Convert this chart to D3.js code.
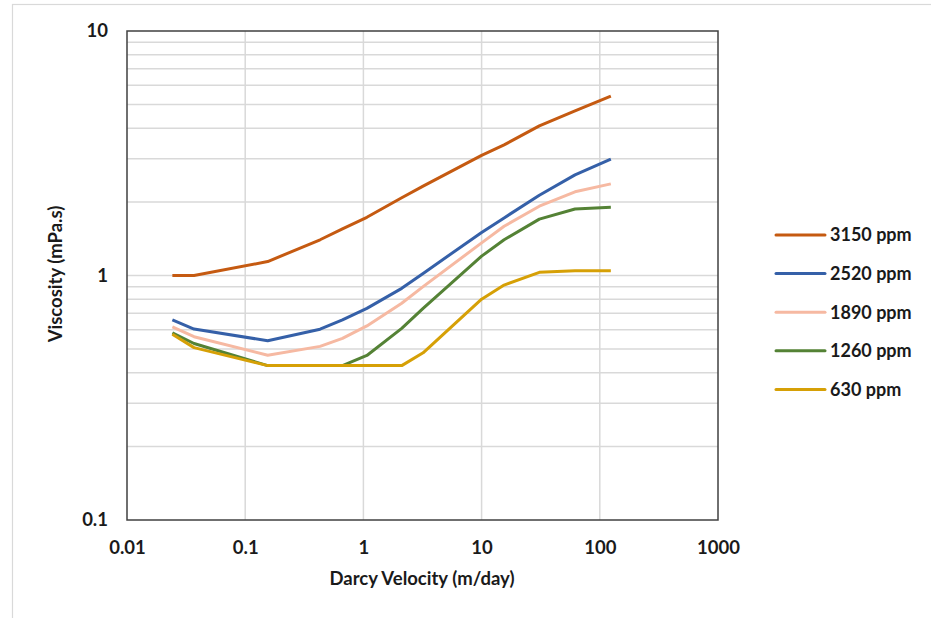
<!DOCTYPE html>
<html><head><meta charset="utf-8">
<script src="https://cdn.jsdelivr.net/npm/d3@7/dist/d3.min.js"></script>
<style>
html,body{margin:0;padding:0;background:#fff;overflow:hidden;}
svg{display:block;}
text{font-family:Lato,Carlito,Calibri,"Open Sans",sans-serif;font-weight:bold;fill:#1a1a1a;}
</style></head>
<body><svg id="chart" width="931" height="618"></svg>
<script>
// Data (Darcy velocity in m/day, viscosity in mPa.s)
const velocities = [0.0242, 0.0369, 0.155, 0.43, 0.665, 1.07, 2.11, 3.2, 10.0, 15.5, 30.8, 61.7, 124];
const visc3150 = [1.00, 1.00, 1.14, 1.40, 1.55, 1.73, 2.08, 2.32, 3.10, 3.42, 4.09, 4.71, 5.42];
const visc2520 = [0.658, 0.604, 0.541, 0.603, 0.658, 0.734, 0.886, 1.02, 1.50, 1.72, 2.13, 2.58, 2.99];
const visc1890 = [0.617, 0.562, 0.472, 0.513, 0.553, 0.622, 0.770, 0.900, 1.36, 1.59, 1.92, 2.20, 2.37];
const visc1260 = [0.583, 0.527, 0.428, 0.428, 0.428, 0.471, 0.608, 0.734, 1.20, 1.40, 1.70, 1.87, 1.90];
const visc630  = [0.575, 0.507, 0.428, 0.428, 0.428, 0.428, 0.428, 0.483, 0.80, 0.914, 1.03, 1.045, 1.045];
const seriesNames = ["3150 ppm", "2520 ppm", "1890 ppm", "1260 ppm", "630 ppm"];
const seriesColors = ["#C55A11", "#3560A8", "#F6B9A2", "#548235", "#D6A006"];
const xTicks = [0.01, 0.1, 1, 10, 100, 1000];
const xTickLabels = ["0.01", "0.1", "1", "10", "100", "1000"];
const yTicks = [0.1, 1, 10];
const yTickLabels = ["0.1", "1", "10"];
const yMinor = [0.2,0.3,0.4,0.5,0.6,0.7,0.8,0.9,2,3,4,5,6,7,8,9];
const xTitle = "Darcy Velocity (m/day)";
const yTitle = "Viscosity (mPa.s)";

const seriesValues = [visc3150, visc2520, visc1890, visc1260, visc630];

(function () {
const svg = d3.select("#chart");
const pl = 127, pr = 718, pt = 31, pb = 520;

// outer chart-area border
svg.append("rect").attr("x", 12.5).attr("y", 4.5).attr("width", 940).attr("height", 640)
  .attr("fill", "none").attr("stroke", "#d9d9d9").attr("stroke-width", 1.2);

const x = d3.scaleLog().domain([0.01, 1000]).range([pl, pr]);
const y = d3.scaleLog().domain([0.1, 10]).range([pb, pt]);

const grid = svg.append("g");
grid.selectAll("line.h").data(yMinor.concat([1])).join("line")
  .attr("x1", pl).attr("x2", pr)
  .attr("y1", d => y(d)).attr("y2", d => y(d))
  .attr("stroke", "#d9d9d9").attr("stroke-width", 1.5);
grid.selectAll("line.v").data(xTicks.slice(1, -1)).join("line")
  .attr("y1", pt).attr("y2", pb)
  .attr("x1", d => x(d)).attr("x2", d => x(d))
  .attr("stroke", "#d9d9d9").attr("stroke-width", 1.5);

// plot frame
svg.append("rect").attr("x", pl).attr("y", pt).attr("width", pr - pl).attr("height", pb - pt)
  .attr("fill", "none").attr("stroke", "#404040").attr("stroke-width", 1.5);

// axes
const xAxis = d3.axisBottom(x).tickValues(xTicks).tickFormat((d, i) => xTickLabels[i]).tickSize(0).tickPadding(21);
const gx = svg.append("g").attr("transform", `translate(0,${pb})`).call(xAxis);
gx.select(".domain").remove();
gx.attr("font-family", null).attr("font-size", null);
gx.selectAll("text").attr("font-size", 18.5);

const yAxis = d3.axisLeft(y).tickValues(yTicks).tickFormat((d, i) => yTickLabels[i]).tickSize(0).tickPadding(19);
const gy = svg.append("g").attr("transform", `translate(${pl},0)`).call(yAxis);
gy.select(".domain").remove();
gy.attr("font-family", null).attr("font-size", null);
gy.selectAll("text").attr("font-size", 18.5);

// titles
svg.append("text").attr("x", 422).attr("y", 585).attr("text-anchor", "middle")
  .attr("font-size", 18.5).text(xTitle);
svg.append("text").attr("transform", "translate(62,274) rotate(-90)").attr("text-anchor", "middle")
  .attr("font-size", 18.5).text(yTitle);

// lines
const line = d3.line().x(d => x(d[0])).y(d => y(d[1]));
const lines = svg.append("g");
seriesValues.forEach((vals, i) => {
  const pts = velocities.map((v, j) => [v, vals[j]]);
  lines.append("path").datum(pts).attr("d", line)
    .attr("fill", "none").attr("stroke", seriesColors[i]).attr("stroke-width", 3)
    .attr("stroke-linejoin", "round");
});

// legend
const lg = svg.append("g");
seriesNames.forEach((name, i) => {
  const ly = 235 + i * 38.6;
  lg.append("line").attr("x1", 776).attr("x2", 825).attr("y1", ly).attr("y2", ly)
    .attr("stroke", seriesColors[i]).attr("stroke-width", 3).attr("stroke-linecap", "round");
  lg.append("text").attr("x", 830).attr("y", ly).attr("dy", "0.35em").attr("font-size", 18).text(name);
});
})();
</script>
</body></html>
